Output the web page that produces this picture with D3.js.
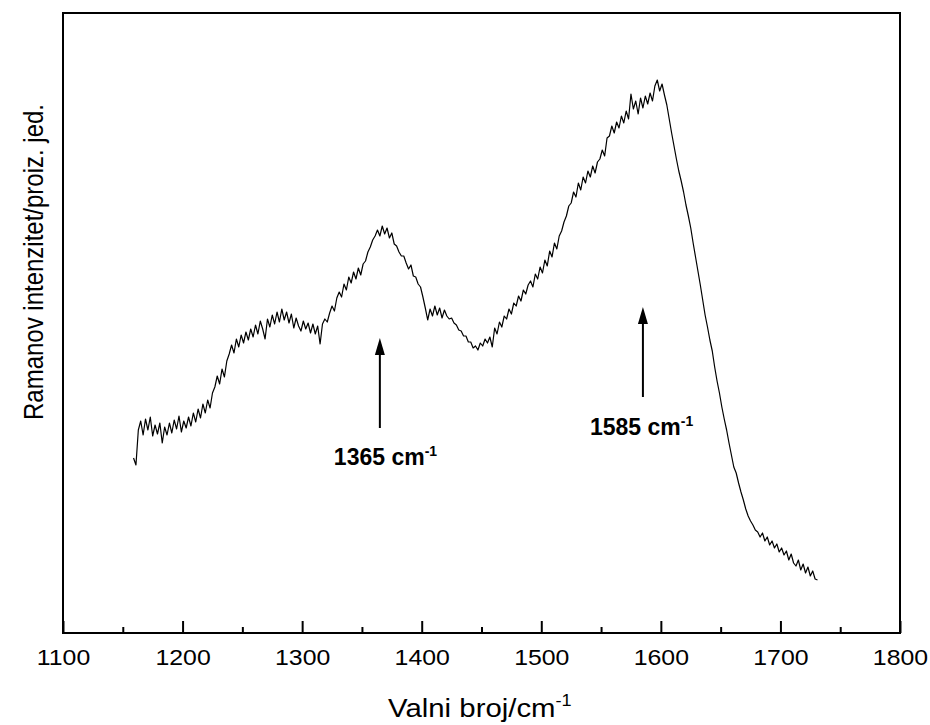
<!DOCTYPE html>
<html>
<head>
<meta charset="utf-8">
<script src="https://cdn.jsdelivr.net/npm/d3@7"></script>
<style>
  html, body { margin: 0; padding: 0; background: #fff; }
  svg { display: block; }
  text { font-family: "Liberation Sans", Arial, sans-serif; fill: #000; }
</style>
</head>
<body>
<svg id="chart" width="930" height="725"></svg>
<script>
// ---- data ----
const startWavenumber = 1159;
const stepWavenumber = 2;
const intensity = [
 175,168,203,212,198,214,203,216,197,208,199,210,190,206,198,210,200,213,204,217,
 201,212,205,216,207,220,211,224,215,229,220,233,225,240,246,257,249,264,256,272,
 279,288,280,294,286,298,290,301,293,304,296,308,299,312,304,294,314,306,318,309,
 321,311,324,313,321,310,319,305,315,307,302,312,304,310,300,309,299,307,289,309,
 314,311,320,327,322,335,341,336,349,343,356,350,361,354,365,358,369,372,381,386,
 393,397,403,397,407,399,405,395,400,389,387,381,377,377,370,364,368,357,356,349,
 346,336,325,313,324,317,327,318,325,315,323,317,314,315,310,308,303,302,297,297,
 291,291,285,287,283,290,287,294,290,296,286,305,299,311,306,317,314,324,319,330,
 327,337,332,343,339,348,352,346,359,354,366,360,373,367,382,376,390,384,397,402,
 411,417,427,430,441,436,450,443,456,450,462,456,467,460,471,474,483,477,495,497,
 507,500,511,505,517,510,522,514,539,524,532,519,535,525,537,529,540,532,547,553,
 542,549,538,528,514,500,487,474,462,452,441,428,417,405,390,376,362,348,333,318,
 306,293,282,266,252,240,226,214,203,190,178,166,160,150,141,133,124,117,112,108,
 103,101,96,100,92,96,88,92,85,89,81,85,78,82,73,79,70,67,73,63,
 69,60,66,57,62,54,53
];
const xTicksMajor = [1100, 1200, 1300, 1400, 1500, 1600, 1700, 1800];
const xTicksMinor = [1150, 1250, 1350, 1450, 1550, 1650, 1750];
const annotations = [
  { label: "1365", pos: 1365, tail: 205, tip: 295, textY: 168, dx: -46 },
  { label: "1585", pos: 1585, tail: 236, tip: 326, textY: 198, dx: -53 }
];
const xTitle = "Valni broj/cm";
const yTitle = "Ramanov intenzitet/proiz. jed.";

// ---- layout ----
const W = 930, H = 725;
const mLeft = 63, mRight = 900, mTop = 13, mBottom = 633;
const stretch = 1.13; // reference text is slightly widened
const svg = d3.select("#chart");

const x = d3.scaleLinear().domain([1100, 1800]).range([mLeft, mRight]);
const y = d3.scaleLinear().domain([0, 620]).range([mBottom, mTop]);

const points = intensity.map((v, i) => [startWavenumber + i * stepWavenumber, v]);

// spectrum
svg.append("path")
  .datum(points)
  .attr("fill", "none")
  .attr("stroke", "#000")
  .attr("stroke-width", 1.2)
  .attr("stroke-linejoin", "round")
  .attr("d", d3.line().x(d => x(d[0])).y(d => y(d[1])));

// frame
svg.append("rect")
  .attr("x", mLeft).attr("y", mTop)
  .attr("width", mRight - mLeft).attr("height", mBottom - mTop)
  .attr("fill", "none").attr("stroke", "#000").attr("stroke-width", 2);

// bottom axis (ticks inward)
const axisMajor = d3.axisBottom(x).tickValues(xTicksMajor).tickSize(-12).tickFormat(d3.format("d"));
const gx = svg.append("g").attr("transform", `translate(0,${mBottom})`).call(axisMajor);
gx.select(".domain").remove();
gx.selectAll(".tick line").attr("stroke", "#000").attr("stroke-width", 2);
gx.selectAll(".tick text")
  .attr("y", 0).attr("dy", 0)
  .attr("transform", `translate(0,32) scale(${stretch},1)`)
  .style("font-size", "22px")
  .style("font-family", "'Liberation Sans', Arial, sans-serif");

const axisMinor = d3.axisBottom(x).tickValues(xTicksMinor).tickSize(-6).tickFormat("");
const gm = svg.append("g").attr("transform", `translate(0,${mBottom})`).call(axisMinor);
gm.select(".domain").remove();
gm.selectAll(".tick line").attr("stroke", "#000").attr("stroke-width", 2);

// axis titles
const xt = svg.append("text")
  .attr("transform", `translate(388,717) scale(${stretch},1)`)
  .style("font-size", "26px");
xt.append("tspan").text(xTitle);
xt.append("tspan").attr("dy", -11).style("font-size", "16px").text("-1");

svg.append("text")
  .attr("transform", `translate(43,262) scale(${stretch},1) rotate(-90)`)
  .attr("text-anchor", "middle")
  .style("font-size", "24px")
  .text(yTitle);

// arrow annotations
annotations.forEach(a => {
  const ax = x(a.pos);
  const yTip = y(a.tip), yTail = y(a.tail);
  svg.append("line")
    .attr("x1", ax).attr("x2", ax)
    .attr("y1", yTail).attr("y2", yTip + 14)
    .attr("stroke", "#000").attr("stroke-width", 2);
  svg.append("path")
    .attr("d", `M${ax},${yTip} L${ax - 5},${yTip + 17} L${ax + 5},${yTip + 17} Z`)
    .attr("fill", "#000");
  const t = svg.append("text")
    .attr("x", ax + a.dx).attr("y", y(a.textY))
    .style("font-size", "23px").style("font-weight", "bold");
  t.append("tspan").text(a.label + " cm");
  t.append("tspan").attr("dy", -9).style("font-size", "14px").text("-1");
});
</script>
</body>
</html>
